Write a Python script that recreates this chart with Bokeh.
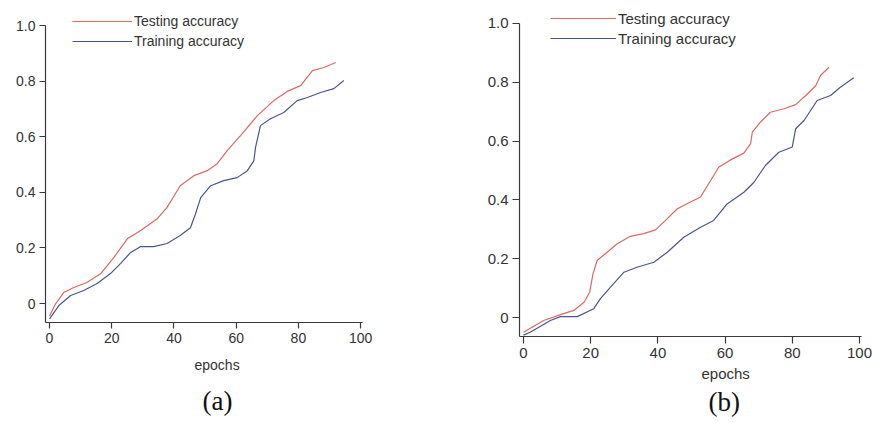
from bokeh.plotting import figure
from bokeh.models import FixedTicker, Legend, LegendItem, Range1d, Title
from bokeh.layouts import row, column
from bokeh.embed import file_html
from bokeh.resources import INLINE

# ---------------- data ----------------
x_ticks = [0, 20, 40, 60, 80, 100]
x_tick_labels = ["0", "20", "40", "60", "80", "100"]
y_ticks = [0, 0.2, 0.4, 0.6, 0.8, 1.0]
y_tick_labels = ["0", "0.2", "0.4", "0.6", "0.8", "1.0"]
series_names = ["Testing accuracy", "Training accuracy"]
captions = ["(a)", "(b)"]
x_title = "epochs"

# panel (a)
a_test_epochs = [0, 2, 4.6, 7.8, 12, 16.4, 20.7, 25, 29.3, 34.6, 37.8, 42, 46.4, 50.7,
                 53.9, 57.1, 61.4, 66.8, 72.1, 76.4, 80.7, 84.5, 88.2, 92]
a_test_acc = [-0.045, 0.0, 0.04, 0.058, 0.076, 0.107, 0.166, 0.233, 0.263, 0.305, 0.346,
              0.424, 0.46, 0.478, 0.503, 0.55, 0.604, 0.676, 0.730, 0.763, 0.784, 0.838,
              0.849, 0.867]
a_train_epochs = [0, 3, 6.8, 11, 15.3, 19.6, 22.8, 26, 29.3, 33.5, 37.8, 42, 45.3, 46.9,
                  48.6, 51.8, 56, 60.3, 63.6, 65.7, 66.2, 67.8, 71, 75.3, 79.6, 82.9,
                  87.1, 91.4, 94.6]
a_train_acc = [-0.055, -0.007, 0.029, 0.047, 0.072, 0.108, 0.144, 0.183, 0.205, 0.205,
               0.216, 0.245, 0.273, 0.322, 0.381, 0.424, 0.442, 0.453, 0.478, 0.514,
               0.561, 0.64, 0.665, 0.687, 0.730, 0.741, 0.759, 0.773, 0.802]

# panel (b)
b_test_epochs = [0, 6, 11, 15, 18, 19.7, 20.7, 21.9, 24.9, 27.9, 31.8, 35.8, 39.3, 41.8,
                 45.8, 49.7, 52.7, 55.7, 58.1, 61.6, 65.6, 67.6, 68.1, 70.5, 73.5, 77.5,
                 81, 84, 87, 88.4, 90.9]
b_test_acc = [-0.05, -0.01, 0.01, 0.024, 0.052, 0.086, 0.149, 0.194, 0.222, 0.251, 0.276,
              0.285, 0.298, 0.325, 0.37, 0.393, 0.41, 0.466, 0.511, 0.536, 0.559, 0.591,
              0.63, 0.664, 0.698, 0.71, 0.724, 0.755, 0.789, 0.823, 0.851]
b_train_epochs = [0, 2, 8, 11, 16, 20.9, 22.9, 25.9, 29.9, 33.8, 38.8, 42.8, 47.7, 52.7,
                  56.6, 60.6, 65.6, 68.6, 72, 76, 80, 81, 83.5, 87.4, 91.4, 94.3, 98.3]
b_train_acc = [-0.06, -0.05, -0.01, 0.003, 0.003, 0.03, 0.064, 0.103, 0.154, 0.171, 0.188,
               0.222, 0.273, 0.307, 0.33, 0.386, 0.426, 0.46, 0.517, 0.562, 0.58, 0.642,
               0.67, 0.738, 0.755, 0.783, 0.815]

RED = "#d86a68"
BLUE = "#4a5688"
AXIS = "#3a3a3a"
TXT = "#333333"


def make_panel(test_x, test_y, train_x, train_y, caption, cfg):
    p = figure(width=436, height=423, output_backend="svg", toolbar_location=None,
               x_range=Range1d(*cfg["xr"]), y_range=Range1d(*cfg["yr"]),
               min_border_left=cfg["bl"], min_border_right=cfg["br"],
               min_border_top=5, min_border_bottom=cfg["bb"])
    p.outline_line_color = None
    p.background_fill_color = "white"
    p.border_fill_color = "white"
    p.xgrid.visible = False
    p.ygrid.visible = False

    fs = cfg["fs"]
    for ax in (p.xaxis[0], p.yaxis[0]):
        ax.axis_line_color = AXIS
        ax.axis_line_width = 1.2
        ax.major_tick_line_color = AXIS
        ax.major_tick_line_width = 1.2
        ax.major_tick_in = 0
        ax.major_tick_out = cfg["tick"]
        ax.minor_tick_line_color = None
        ax.major_label_text_font = "Liberation Sans"
        ax.major_label_text_font_size = fs
        ax.major_label_text_color = TXT
        ax.major_label_standoff = 4
    p.xaxis[0].ticker = FixedTicker(ticks=x_ticks)
    p.yaxis[0].ticker = FixedTicker(ticks=y_ticks)
    p.xaxis[0].major_label_overrides = dict(zip(x_ticks, x_tick_labels))
    p.yaxis[0].major_label_overrides = dict(zip(y_ticks, y_tick_labels))
    p.yaxis[0].bounds = (cfg["yr"][0], 1.0)

    r1 = p.line(test_x, test_y, line_color=RED, line_width=1.2)
    r2 = p.line(train_x, train_y, line_color=BLUE, line_width=1.2)

    leg = Legend(items=[LegendItem(label=series_names[0], renderers=[r1]),
                        LegendItem(label=series_names[1], renderers=[r2])],
                 location=cfg["legloc"], glyph_width=cfg["gw"], glyph_height=18,
                 label_height=18, spacing=2, padding=0, margin=0, label_standoff=2,
                 background_fill_alpha=0, border_line_color=None,
                 label_text_font="Liberation Sans", label_text_font_size=cfg["lfs"],
                 label_text_color=TXT)
    p.add_layout(leg)

    p.add_layout(Title(text=x_title, align="left", offset=cfg["eoff"], standoff=cfg["est"],
                       text_font="Liberation Sans", text_font_size=fs,
                       text_font_style="normal", text_color=TXT), "below")
    p.add_layout(Title(text=caption, align="left", offset=cfg["coff"], standoff=cfg["cst"],
                       text_font="Liberation Serif", text_font_size="27px",
                       text_font_style="normal", text_color="#111111"), "below")
    return p


cfg_a = dict(xr=(-1.29, 100.6), yr=(-0.068, 1.072), bl=45, br=74, bb=101, fs="14px",
             tick=6, legloc=(27, 272), gw=60, lfs="14px", eoff=149, est=18,
             coff=157, cst=4)
cfg_b = dict(xr=(-1.19, 100.6), yr=(-0.0646, 1.061), bl=83, br=11, bb=87, fs="15px",
             tick=7, legloc=(31, 289), gw=66, lfs="15px", eoff=182, est=4,
             coff=189, cst=2)

pa = make_panel(a_test_epochs, a_test_acc, a_train_epochs, a_train_acc, captions[0], cfg_a)
pb = make_panel(b_test_epochs, b_test_acc, b_train_epochs, b_train_acc, captions[1], cfg_b)

layout = row(column(pa), column(pb), spacing=0)
open("out.html", "w").write(file_html(layout, INLINE))
